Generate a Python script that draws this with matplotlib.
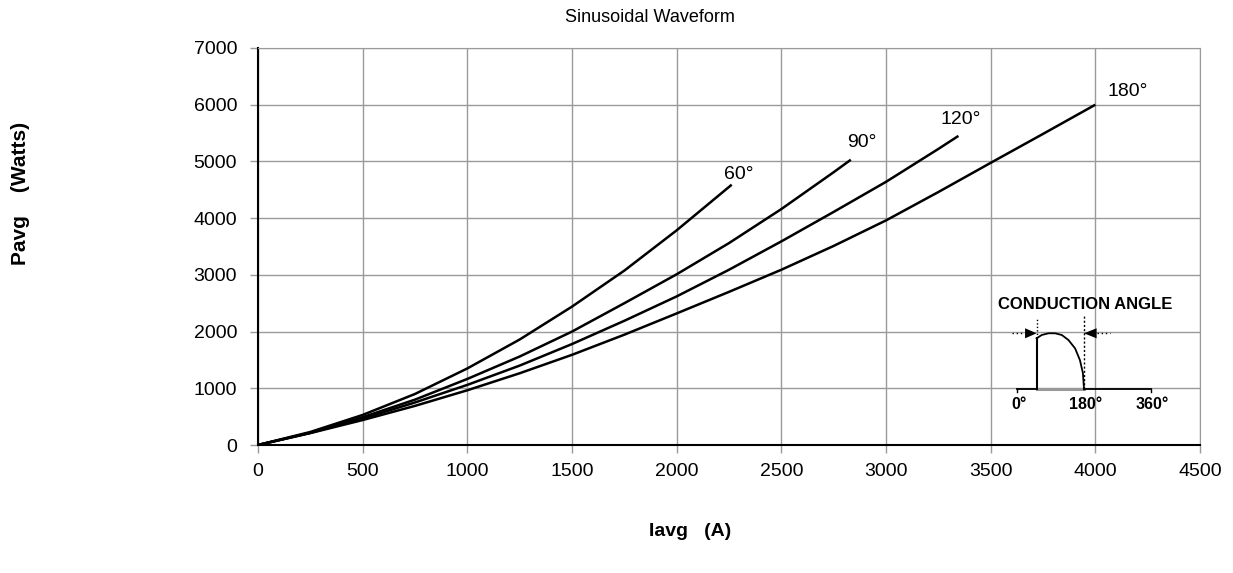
import matplotlib
matplotlib.use("Agg")
import matplotlib.pyplot as plt

plt.rcParams['font.family'] = ['Liberation Sans', 'DejaVu Sans']

# values (Iavg in A, Pavg in W)
i_60 = [0, 250, 500, 750, 1000, 1250, 1500, 1750, 2000, 2263]
p_60 = [0, 230, 530, 900, 1350, 1860, 2440, 3075, 3785, 4590]

i_90 = [0, 250, 500, 750, 1000, 1250, 1500, 1750, 2000, 2250, 2500, 2750, 2832]
p_90 = [0, 215, 490, 800, 1165, 1560, 2000, 2500, 3010, 3560, 4160, 4810, 5030]

i_120 = [0, 250, 500, 750, 1000, 1250, 1500, 1750, 2000, 2250, 2500, 2750, 3000, 3250, 3346]
p_120 = [0, 215, 465, 750, 1060, 1400, 1780, 2190, 2620, 3090, 3590, 4110, 4640, 5220, 5450]

i_180 = [0, 250, 500, 750, 1000, 1250, 1500, 1750, 2000, 2250, 2500, 2750, 3000, 3250, 3500, 3750, 4000]
p_180 = [0, 210, 440, 690, 965, 1265, 1590, 1945, 2320, 2700, 3090, 3510, 3960, 4460, 4975, 5485, 6000]

curve_labels = ["60°", "90°", "120°", "180°"]
label_pos = [(2225, 4770), (2815, 5330), (3262, 5745), (4058, 6230)]

x_ticks = [0, 500, 1000, 1500, 2000, 2500, 3000, 3500, 4000, 4500]
y_ticks = [0, 1000, 2000, 3000, 4000, 5000, 6000, 7000]

# inset sketch (phase in degrees, relative amplitude)
arc_deg = [52, 66, 84, 102, 120, 138, 156, 169, 177, 180]
arc_amp = [0.91, 0.97, 1.0, 1.0, 0.97, 0.88, 0.73, 0.52, 0.29, 0.0]
inset_ticks = [0, 180, 360]
inset_ticklabels = ["0°", "180°", "360°"]

fig = plt.figure(figsize=(12.33, 5.73), dpi=100)
ax = fig.add_axes([258 / 1233, 128 / 573, 942 / 1233, 397 / 573])

for xs, ys in [(i_60, p_60), (i_90, p_90), (i_120, p_120), (i_180, p_180)]:
    ax.plot(xs, ys, color='black', lw=1.8, solid_capstyle='butt')

for txt, (lx, ly) in zip(curve_labels, label_pos):
    ax.text(lx, ly, txt, fontsize=14, ha='left', va='center')

ax.set_xlim(0, 4500)
ax.set_ylim(0, 7000)
ax.set_xticks(x_ticks)
ax.set_yticks(y_ticks)
ax.grid(True, color='#9a9a9a', lw=1)
ax.set_axisbelow(True)
ax.tick_params(axis='both', labelsize=14, color='#9a9a9a', length=6, width=1)
ax.tick_params(axis='y', pad=9)
ax.tick_params(axis='x', pad=7)
ax.spines['left'].set_color('black')
ax.spines['left'].set_linewidth(1.5)
ax.spines['bottom'].set_color('black')
ax.spines['bottom'].set_linewidth(1.5)
ax.spines['top'].set_color('#9a9a9a')
ax.spines['right'].set_color('#9a9a9a')

fig.text(650 / 1233, 1 - 17 / 573, "Sinusoidal Waveform", fontsize=13, ha='center', va='center')
fig.text(21 / 1233, 1 - 193 / 573, "Pavg    (Watts)", fontsize=15, fontweight='bold',
         rotation=90, ha='center', va='center')
fig.text(690 / 1233, 1 - 532 / 573, "Iavg   (A)", fontsize=14, fontweight='bold',
         ha='center', va='center')

# conduction angle sketch
ins = fig.add_axes([1000 / 1233, 1 - 415 / 573, 180 / 1233, 120 / 573])
ins.set_xlim(-46.7, 439)
ins.set_ylim(-0.459, 1.684)
ins.axis('off')
ins.patch.set_alpha(0)
ins.plot([0, 52], [0, 0], color='black', lw=1.3)
ins.plot([52, 180], [0, 0], color='#999999', lw=2.2)
ins.plot([180, 360], [0, 0], color='black', lw=1.3)
for t in [0, 360]:
    ins.plot([t, t], [0, -0.05], color='black', lw=1)
ins.plot([52, 52], [0, 0.91], color='black', lw=1.5)
ins.plot(arc_deg, arc_amp, color='black', lw=1.3)
ins.plot([52, 52], [0.91, 1.27], color='black', lw=1, ls=(0, (1, 1.5)))
ins.plot([180, 180], [0, 1.33], color='black', lw=1, ls=(0, (1.5, 1.5)))
ins.plot([-15, 21], [1.0, 1.0], color='black', lw=1, ls=(0, (1, 2)))
ins.plot([214, 250], [1.0, 1.0], color='black', lw=1, ls=(0, (1, 2)))
ins.fill([21, 52, 21], [1.09, 1.0, 0.91], color='black', lw=0)
ins.fill([214, 180, 214], [1.09, 1.0, 0.91], color='black', lw=0)
ins.text(182, 1.52, "CONDUCTION ANGLE", fontsize=12, fontweight='bold', ha='center', va='center')
for t, lab in zip(inset_ticks, inset_ticklabels):
    ins.text(t + 4, -0.28, lab, fontsize=11.5, fontweight='bold', ha='center', va='center')

fig.savefig("out.png", dpi=100)
